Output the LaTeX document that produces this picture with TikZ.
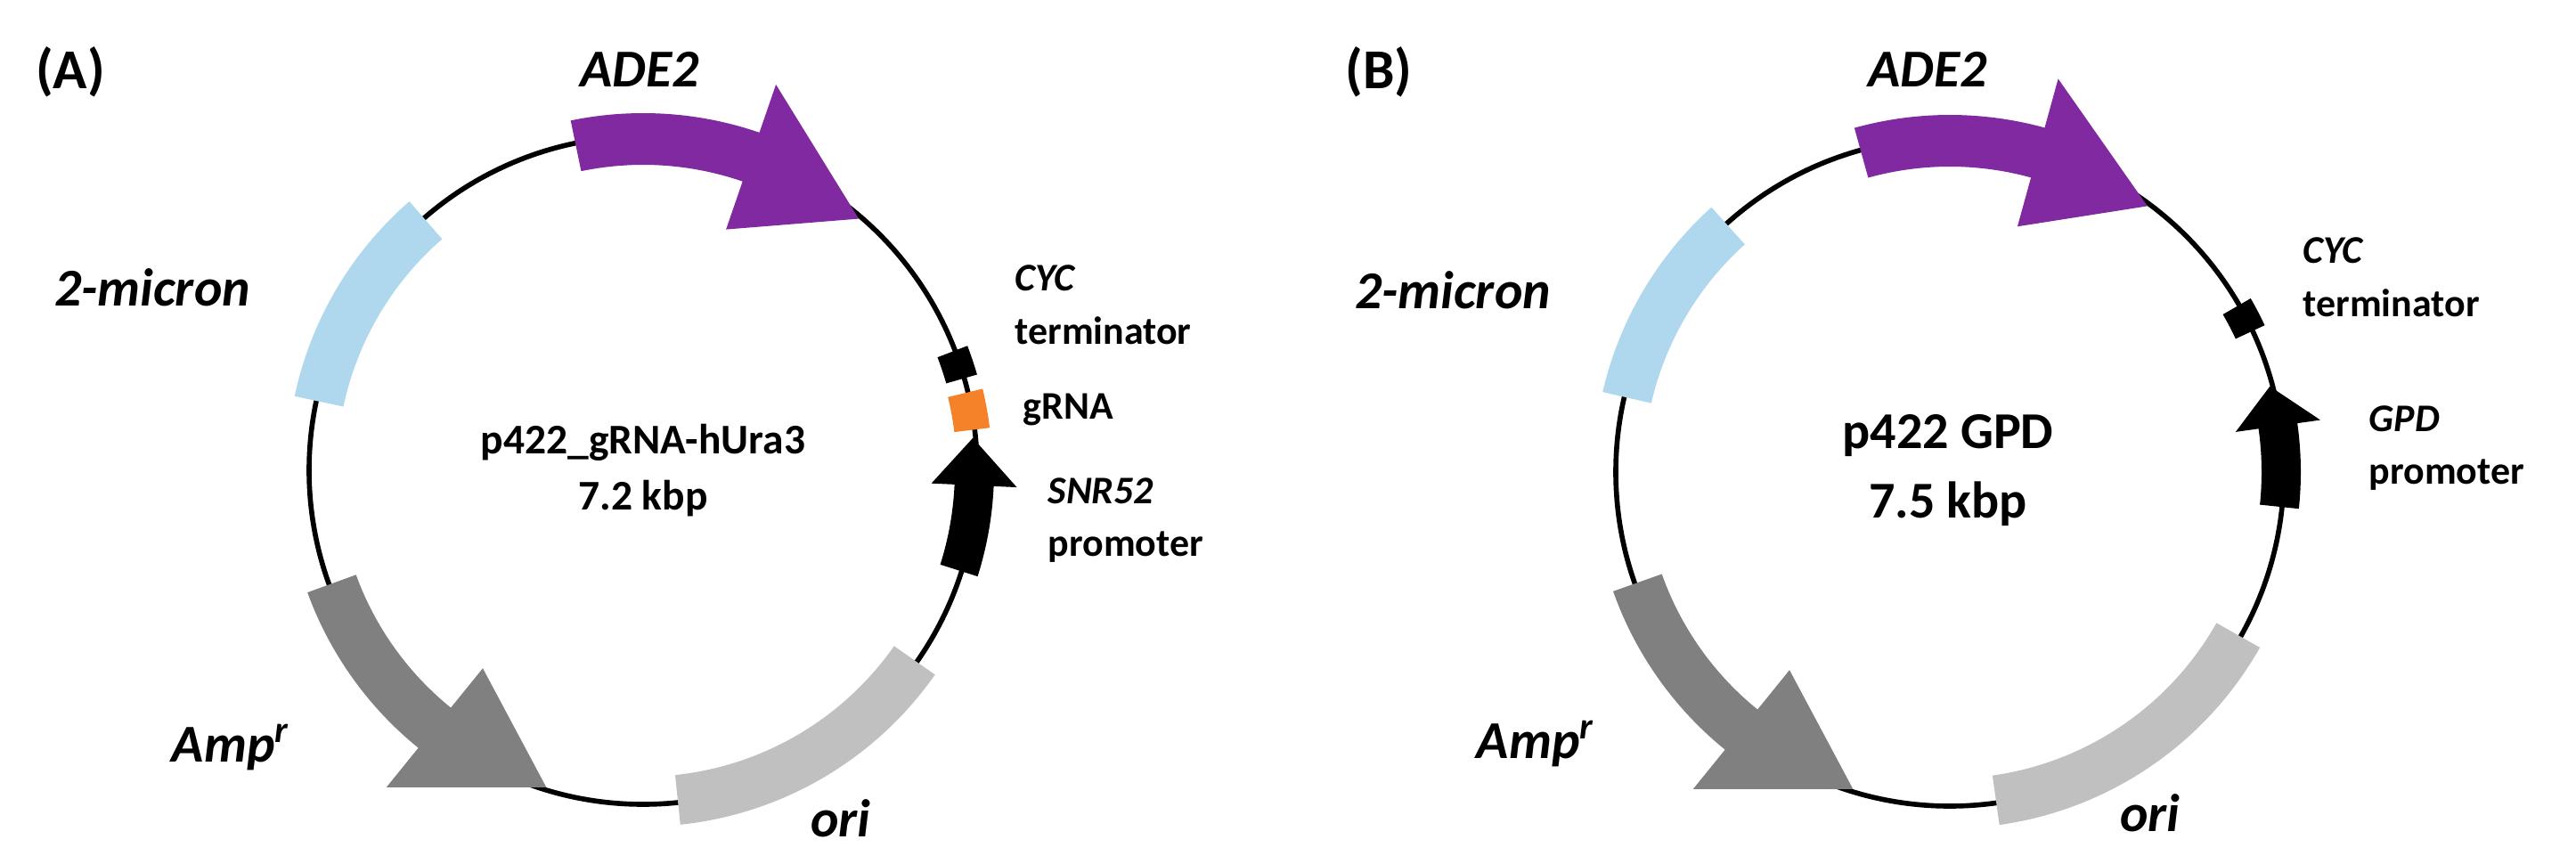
\documentclass[tikz,border=0pt]{standalone}
\usepackage{fontspec}
\setmainfont{Carlito}
\usetikzlibrary{positioning}
\definecolor{adepurple}{RGB}{128,41,160}
\definecolor{micronblue}{RGB}{175,215,238}
\definecolor{ampgray}{RGB}{128,128,128}
\definecolor{origray}{RGB}{192,192,192}
\definecolor{grnaorange}{RGB}{245,130,40}
% arc feature with an arrow head: start, head base, tip, half width, head half width, colour
\newcommand{\featarrow}[6]{%
  \pgfmathsetmacro\ro{3.72+#4}\pgfmathsetmacro\ri{3.72-#4}%
  \pgfmathsetmacro\ho{3.72+#5}\pgfmathsetmacro\hi{3.72-#5}%
  \fill[#6] (#1:\ro) arc[start angle=#1,end angle=#2,radius=\ro] -- (#2:\ho) -- (#3:3.72)
    -- (#2:\hi) -- (#2:\ri) arc[start angle=#2,end angle=#1,radius=\ri] -- cycle;}
% plain arc band: start, end, half width, colour
\newcommand{\featband}[4]{%
  \pgfmathsetmacro\ro{3.72+#3}\pgfmathsetmacro\ri{3.72-#3}%
  \fill[#4] (#1:\ro) arc[start angle=#1,end angle=#2,radius=\ro]
    -- (#2:\ri) arc[start angle=#2,end angle=#1,radius=\ri] -- cycle;}
\begin{document}
\begin{tikzpicture}[
    panel/.style={font=\fontsize{18}{21}\selectfont\bfseries},
    gene/.style={font=\fontsize{17}{20}\selectfont\bfseries\itshape},
    small/.style={font=\fontsize{12.5}{17}\selectfont\bfseries, align=left, anchor=west, inner sep=0pt},
    title/.style={font=\fontsize{13.5}{18}\selectfont\bfseries, align=center},
    bigtitle/.style={font=\fontsize{16.5}{22}\selectfont\bfseries, align=center},
    backbone/.style={draw, line width=1.6pt}
]
\useasboundingbox (0,0) rectangle (28.92,9.69);

% Panel A
\coordinate (cA) at (7.22,4.41);
\begin{scope}[shift={(cA)}]
  \draw[backbone] (0,0) circle (3.75);
  \featarrow{101.7}{71}{49.4}{0.29}{0.86}{adepurple}
  \featband{131}{168}{0.28}{micronblue}
  \featarrow{200}{231}{253}{0.29}{0.86}{ampgray}
  \featband{-35}{-84}{0.28}{origray}
  \featarrow{-17.6}{-2.6}{5.6}{0.22}{0.48}{black}
  \featband{7}{13.5}{0.2}{grnaorange}
  \featband{16}{21}{0.18}{black}
\end{scope}
\node[panel] (labA) at (0.79,8.88) {(A)};
\node[gene] (adeA) at (7.18,8.91) {ADE2};
\node[gene] (micA) at (1.71,6.46) {2-micron};
\node[gene] (ampA) at (2.59,1.30) {Amp\textsuperscript{r}};
\node[gene] (oriA) at (9.44,0.50) {ori};
\node[title] (nameA) at (7.22,4.41) {p422\_gRNA-hUra3\\7.2 kbp};
\node[small] (cycA) at (11.39,6.27) {\itshape CYC\\terminator};
\node[small] (grnaA) at (11.48,5.09) {gRNA};
\node[small] (snrA) at (11.76,3.85) {\itshape SNR52\\promoter};

% Panel B
\coordinate (cB) at (21.89,4.39);
\begin{scope}[shift={(cB)}]
  \draw[backbone] (0,0) circle (3.75);
  \featarrow{105.5}{74.6}{53.4}{0.29}{0.86}{adepurple}
  \featband{132}{167}{0.28}{micronblue}
  \featarrow{199.5}{231}{253}{0.29}{0.86}{ampgray}
  \featband{-29.5}{-82}{0.28}{origray}
  \featarrow{-6}{8}{15}{0.22}{0.48}{black}
  \featband{25}{30}{0.18}{black}
\end{scope}
\node[panel] (labB) at (15.48,8.88) {(B)};
\node[gene] (adeB) at (21.64,8.91) {ADE2};
\node[gene] (micB) at (16.31,6.43) {2-micron};
\node[gene] (ampB) at (17.24,1.34) {Amp\textsuperscript{r}};
\node[gene] (oriB) at (24.14,0.56) {ori};
\node[bigtitle] (nameB) at (21.87,4.41) {p422 GPD\\7.5 kbp};
\node[small] (cycB) at (25.85,6.58) {\itshape CYC\\terminator};
\node[small] (gpdB) at (26.59,4.66) {\itshape GPD\\promoter};
\end{tikzpicture}
\end{document}
